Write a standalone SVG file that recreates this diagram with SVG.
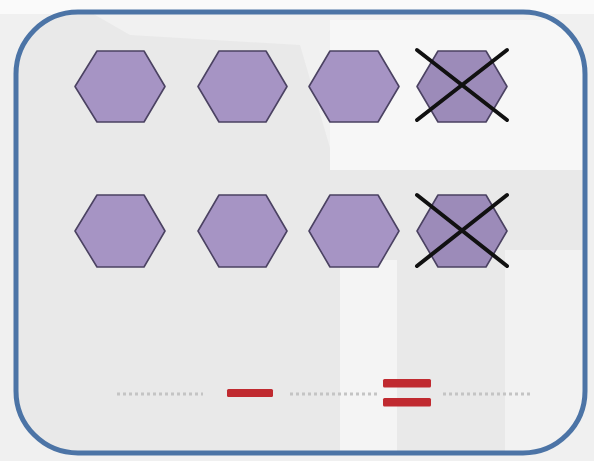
<svg xmlns="http://www.w3.org/2000/svg" width="594" height="461" viewBox="0 0 594 461">
<style>
.hex{fill:#a694c4;stroke:#4b4262;stroke-width:1.6;stroke-linejoin:round}
.hexd{fill:#9c8bb9;stroke:#4b4262;stroke-width:1.6;stroke-linejoin:round}
.x{stroke:#111;stroke-width:4;stroke-linecap:round}
.dots{stroke:#c4c4c4;stroke-width:3;stroke-dasharray:3 3}
.bar{fill:#c02a30}
</style>
<defs>
<clipPath id="inner"><rect x="16" y="12" width="569" height="441" rx="62" ry="62"/></clipPath>
</defs>
<rect width="594" height="461" fill="#f0f0f0"/>
<rect x="0" y="0" width="594" height="14" fill="#fafafa"/>
<g id="box">
<rect x="16" y="12" width="569" height="441" rx="62" ry="62" fill="#e9e9e9"/>
<g clip-path="url(#inner)">
<polygon points="90,12 585,12 585,165 335,165 300,45 130,35" fill="#f1f1f1"/>
<rect x="330" y="20" width="260" height="150" fill="#f7f7f7"/>
<rect x="340" y="260" width="57" height="200" fill="#f4f4f4"/>
<rect x="505" y="250" width="80" height="210" fill="#f2f2f2"/>
</g>
<rect x="16" y="12" width="569" height="441" rx="62" ry="62" fill="none" stroke="#4c74a6" stroke-width="5"/>
</g>
<g id="hex-r1-1"><polygon class="hex" points="75,86.5 97,51 144,51 165,86.5 144,122 97,122"/></g>
<g id="hex-r1-2"><polygon class="hex" points="198,86.5 219,51 266,51 287,86.5 266,122 219,122"/></g>
<g id="hex-r1-3"><polygon class="hex" points="309,86.5 330,51 378,51 399,86.5 378,122 330,122"/></g>
<g id="hex-r1-4"><polygon class="hexd" points="417,86.5 438,51 486,51 507,86.5 486,122 438,122"/>
<line class="x" x1="417" y1="50" x2="507" y2="120"/><line class="x" x1="507" y1="50" x2="417" y2="120"/></g>
<g id="hex-r2-1"><polygon class="hex" points="75,231 97,195 144,195 165,231 144,267 97,267"/></g>
<g id="hex-r2-2"><polygon class="hex" points="198,231 219,195 266,195 287,231 266,267 219,267"/></g>
<g id="hex-r2-3"><polygon class="hex" points="309,231 330,195 378,195 399,231 378,267 330,267"/></g>
<g id="hex-r2-4"><polygon class="hexd" points="417,231 438,195 486,195 507,231 486,267 438,267"/>
<line class="x" x1="417" y1="195" x2="507" y2="266"/><line class="x" x1="507" y1="195" x2="417" y2="266"/></g>
<g id="connectors">
<line class="dots" x1="117" y1="394" x2="203" y2="394"/>
<line class="dots" x1="290" y1="394" x2="377" y2="394"/>
<line class="dots" x1="443" y1="394" x2="533" y2="394"/>
</g>
<g id="minus"><rect class="bar" x="227" y="389" width="46" height="8" rx="1.5" fill="#b5242c"/></g>
<g id="equals"><rect class="bar" x="383" y="379" width="48" height="8.5" rx="1.5"/><rect class="bar" x="383" y="398" width="48" height="8.5" rx="1.5"/></g>
</svg>
